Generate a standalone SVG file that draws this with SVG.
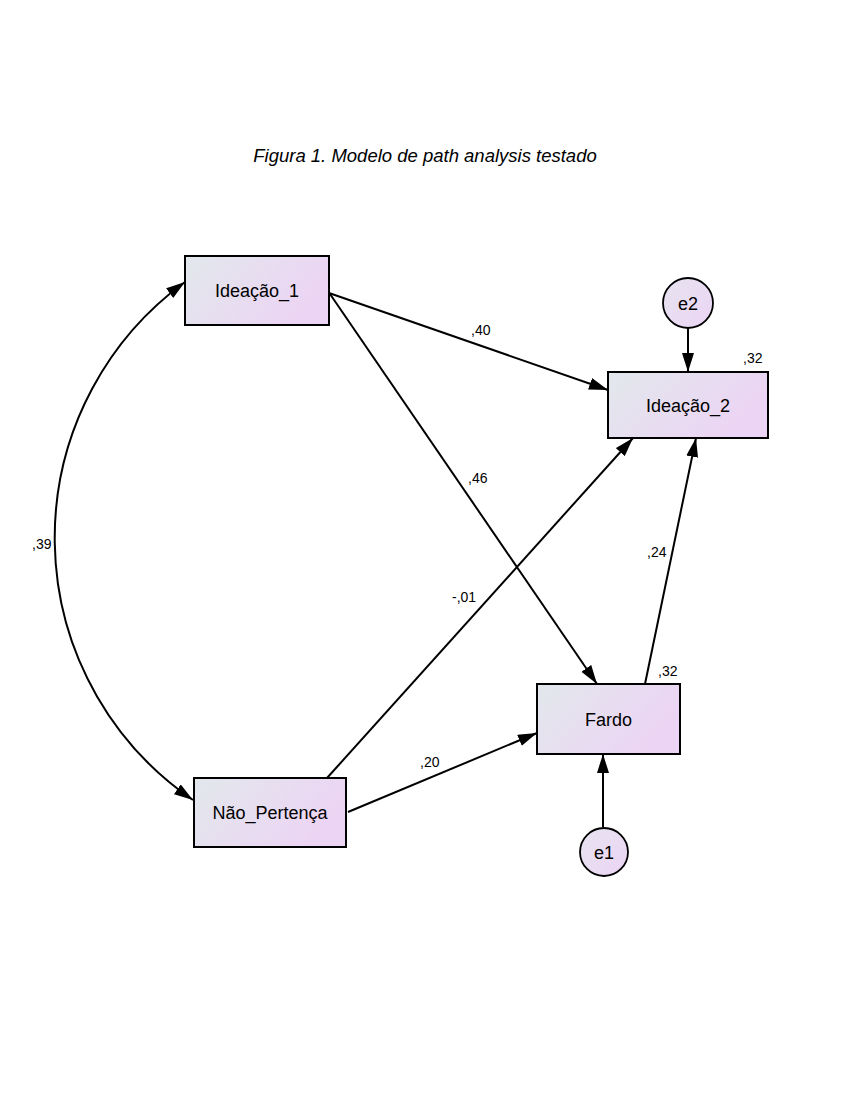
<svg xmlns="http://www.w3.org/2000/svg" width="850" height="1100" viewBox="0 0 850 1100">
<style>
  .box { stroke: #000; stroke-width: 2; fill: url(#g); }
  .circ { stroke: #000; stroke-width: 1.8; fill: url(#g2); }
  .lbl { font-family: "Liberation Sans", Arial, sans-serif; font-size: 18px; fill: #000; text-anchor: middle; }
  .num { font-family: "Liberation Sans", Arial, sans-serif; font-size: 14px; fill: #000; }
  .edge { stroke: #000; stroke-width: 2; fill: none; marker-end: url(#ah); }
  .title { font-family: "Liberation Sans", Arial, sans-serif; font-size: 18.5px; font-style: italic; fill: #000; text-anchor: middle; }
</style>
<defs>
  <linearGradient id="g" x1="0" y1="0" x2="1" y2="0.4">
    <stop offset="0" stop-color="#e2e8ec"/>
    <stop offset="1" stop-color="#ecd4f4"/>
  </linearGradient>
  <linearGradient id="g2" x1="0" y1="0" x2="1" y2="1">
    <stop offset="0" stop-color="#e6e4f0"/>
    <stop offset="1" stop-color="#ecd4f4"/>
  </linearGradient>
  <marker id="ah" viewBox="0 0 19 12" markerUnits="userSpaceOnUse" markerWidth="19" markerHeight="12" refX="19" refY="6" orient="auto-start-reverse">
    <path d="M0,0 L19,6 L0,12 z" fill="#000"/>
  </marker>
</defs>
<rect width="850" height="1100" fill="#fff"/>
<text class="title" x="425" y="162">Figura 1. Modelo de path analysis testado</text>

<g id="connectors">
  <path class="edge" d="M329,293 L608,390"/>
  <path class="edge" d="M330,294 L597,684"/>
  <path class="edge" d="M327,778 L633,438"/>
  <path class="edge" d="M348,812 L537,733"/>
  <path class="edge" d="M645,684 L696,438"/>
  <path class="edge" d="M688,328 L688,372"/>
  <path class="edge" d="M603,827 L603,754"/>
  <path class="edge" d="M185,282 A317,317 0 0 0 193,800" marker-start="url(#ah)"/>
  <text class="num" x="471" y="335">,40</text>
  <text class="num" x="468" y="483">,46</text>
  <text class="num" x="452" y="602">-,01</text>
  <text class="num" x="420" y="767">,20</text>
  <text class="num" x="647" y="557">,24</text>
  <text class="num" x="32" y="549">,39</text>
</g>

<g id="ideacao1">
  <rect class="box" x="185" y="256" width="144" height="69"/>
  <text class="lbl" x="257" y="297">Ideação_1</text>
</g>
<g id="ideacao2">
  <rect class="box" x="608" y="372" width="160" height="66"/>
  <text class="lbl" x="688" y="411.5">Ideação_2</text>
  <text class="num" x="743" y="363">,32</text>
</g>
<g id="fardo">
  <rect class="box" x="537" y="684" width="143" height="70"/>
  <text class="lbl" x="608.5" y="725.5">Fardo</text>
  <text class="num" x="658" y="676">,32</text>
</g>
<g id="naopertenca">
  <rect class="box" x="194" y="778" width="152" height="69"/>
  <text class="lbl" x="270" y="819">Não_Pertença</text>
</g>
<g id="e2">
  <circle class="circ" cx="688" cy="303" r="25"/>
  <text class="lbl" x="688" y="309.5">e2</text>
</g>
<g id="e1">
  <circle class="circ" cx="604" cy="852" r="24"/>
  <text class="lbl" x="604" y="858.5">e1</text>
</g>
</svg>
